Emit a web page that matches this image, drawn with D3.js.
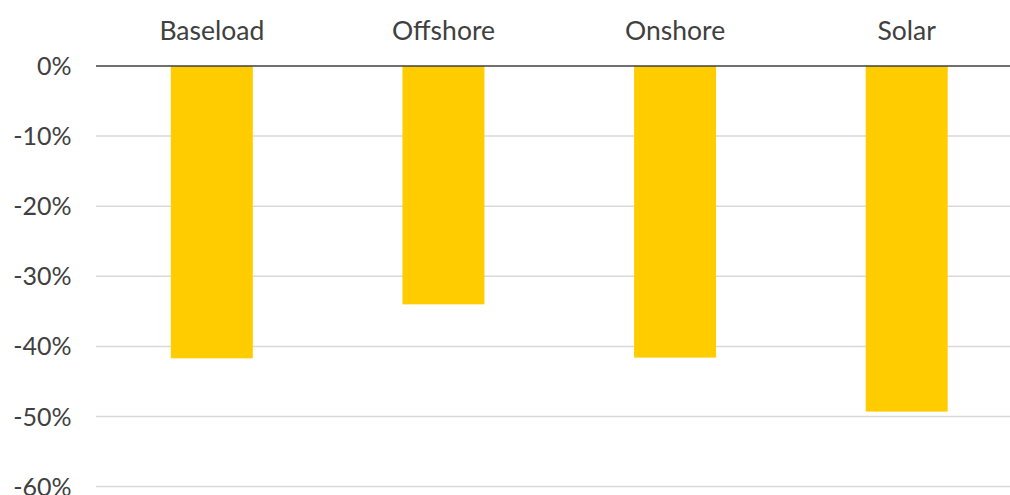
<!DOCTYPE html>
<html>
<head>
<meta charset="utf-8">
<script src="https://cdn.jsdelivr.net/npm/d3@7"></script>
<style>
  body { margin: 0; background: #fff; }
  svg { display: block; font-family: Lato, "Open Sans", sans-serif; }
</style>
</head>
<body>
<div id="chart"></div>
<script>
// data
const categories = ["Baseload", "Offshore", "Onshore", "Solar"];
const values = [-0.417, -0.340, -0.416, -0.493];
const yTicks = [0, -0.1, -0.2, -0.3, -0.4, -0.5, -0.6];

let w = 1010;
let h = 495;

let svg = d3.select("#chart")
  .append("svg")
    .attr("width", w)
    .attr("height", h);

// scales
let xScale = d3.scaleBand()
  .domain(categories)
  .range([96, 1022.5])
  .paddingInner(0.646)
  .paddingOuter(0.323);
let yScale = d3.scaleLinear()
  .domain([0, -0.6])
  .range([66, 486.6]);

// gridlines
svg.append("g")
  .selectAll("line")
  .data(yTicks.filter(d => d !== 0))
  .join("line")
    .attr("x1", 96)
    .attr("x2", w)
    .attr("y1", d => yScale(d))
    .attr("y2", d => yScale(d))
    .attr("stroke", "#d9d9d9")
    .attr("stroke-width", 1.5);

// bars
svg.append("g")
  .selectAll("rect")
  .data(values)
  .join("rect")
    .attr("x", (d, i) => xScale(categories[i]))
    .attr("y", yScale(0))
    .attr("width", xScale.bandwidth())
    .attr("height", d => yScale(d) - yScale(0))
    .attr("fill", "#ffcc00");

// zero line
svg.append("line")
  .attr("x1", 96)
  .attr("x2", w)
  .attr("y1", yScale(0))
  .attr("y2", yScale(0))
  .attr("stroke", "#404040")
  .attr("stroke-width", 1.5);

// y axis labels
let yAxis = d3.axisLeft(yScale)
  .tickValues(yTicks)
  .tickFormat(d3.format(".0%"))
  .tickSize(0)
  .tickPadding(0);
let gy = svg.append("g")
  .attr("transform", "translate(71.5,0)")
  .call(yAxis);
gy.select(".domain").remove();
gy.selectAll("text")
  .attr("font-family", "Lato, 'Open Sans', sans-serif")
  .attr("font-size", "25px")
  .attr("fill", "#404040")
  .attr("dy", "0.34em")
  .text(d => d === 0 ? "0%" : "-" + Math.round(Math.abs(d) * 100) + "%");

// category labels
let xAxis = d3.axisTop(xScale)
  .tickSize(0)
  .tickPadding(0);
let gx = svg.append("g")
  .attr("transform", "translate(0,40)")
  .call(xAxis);
gx.select(".domain").remove();
gx.selectAll("text")
  .attr("font-family", "Lato, 'Open Sans', sans-serif")
  .attr("font-size", "26.5px")
  .attr("fill", "#404040")
  .attr("dy", "0");
</script>
</body>
</html>
